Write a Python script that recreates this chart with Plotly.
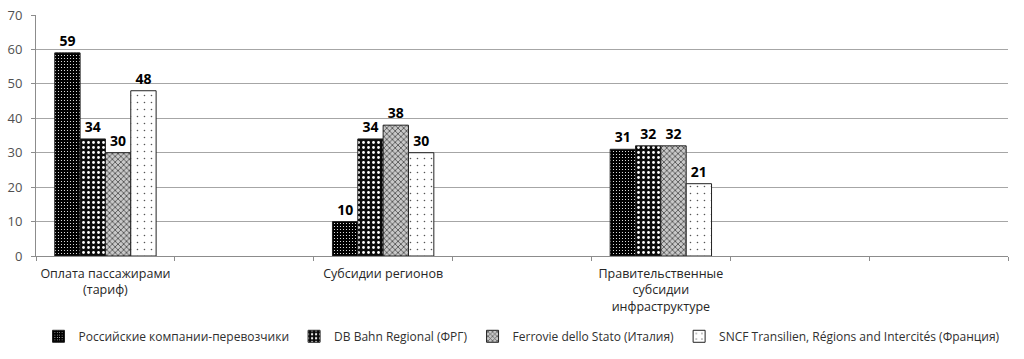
import plotly.graph_objects as go

categories = ["Оплата пассажирами<br>(тариф)", " ", "Субсидии регионов", "  ",
              "Правительственные<br>субсидии<br>инфраструктуре", "   ", "    "]
series_names = ["Российские компании-перевозчики", "DB Bahn Regional (ФРГ)",
                "Ferrovie dello Stato (Италия)",
                "SNCF Transilien, Régions and Intercités (Франция)"]
russia = [59, None, 10, None, 31, None, None]
db_bahn = [34, None, 34, None, 32, None, None]
ferrovie = [30, None, 38, None, 32, None, None]
sncf = [48, None, 30, None, 21, None, None]
values = [russia, db_bahn, ferrovie, sncf]
yticks = [0, 10, 20, 30, 40, 50, 60, 70]

patterns = [
    dict(shape=".", bgcolor="#000000", fgcolor="#ffffff", size=3, solidity=0.12, fillmode="replace"),
    dict(shape=".", bgcolor="#0a0a0a", fgcolor="#ffffff", size=5, solidity=0.25, fillmode="replace"),
    dict(shape="x", bgcolor="#c8c8c8", fgcolor="#555555", size=4, solidity=0.4, fillmode="replace"),
    dict(shape=".", bgcolor="#ffffff", fgcolor="#555555", size=7, solidity=0.04, fillmode="replace"),
]

font_family = "Open Sans, Liberation Sans, sans-serif"

fig = go.Figure()
for name, vals, pat in zip(series_names, values, patterns):
    fig.add_trace(go.Bar(
        name=name, x=categories, y=vals,
        marker=dict(color="#000000", pattern=pat, line=dict(color="#222222", width=1)),
        text=[("" if v is None else str(v)) for v in vals],
        textposition="outside", cliponaxis=False,
        textfont=dict(family=font_family, size=14, color="#000000", weight="bold"),
    ))

fig.update_layout(
    template="none",
    barmode="group", bargap=0.27, bargroupgap=0,
    width=1024, height=359,
    margin=dict(l=36, r=16, t=15, b=103, autoexpand=False),
    paper_bgcolor="white", plot_bgcolor="white",
    font=dict(family=font_family, size=12, color="#404040"),
    showlegend=True,
    legend=dict(orientation="h", x=0.5, xanchor="center", y=-0.273, yanchor="top",
                font=dict(size=12, color="#303030"), itemwidth=30,
                traceorder="normal", bgcolor="rgba(0,0,0,0)"),
    xaxis=dict(type="category", automargin=False, showline=True, linecolor="#8c8c8c", linewidth=1,
               ticks="outside", tickson="boundaries", ticklen=4, tickcolor="#8c8c8c",
               tickangle=0, ticklabelstandoff=6, ticklabeloverflow="allow",
               tickfont=dict(size=12.5, color="#262626"), showgrid=False, zeroline=False),
    yaxis=dict(range=[0, 70], automargin=False, tickvals=yticks, showline=True, linecolor="#8c8c8c",
               linewidth=1, ticks="outside", ticklen=4, tickcolor="#8c8c8c",
               ticklabelstandoff=6, ticklabeloverflow="allow",
               gridcolor="#a6a6a6", gridwidth=1, zeroline=False,
               tickfont=dict(size=13, color="#505050")),
)

fig.write_html("out.html", config={"displayModeBar": False},
               post_script="document.body.style.margin='0';document.body.style.overflow='hidden';")
